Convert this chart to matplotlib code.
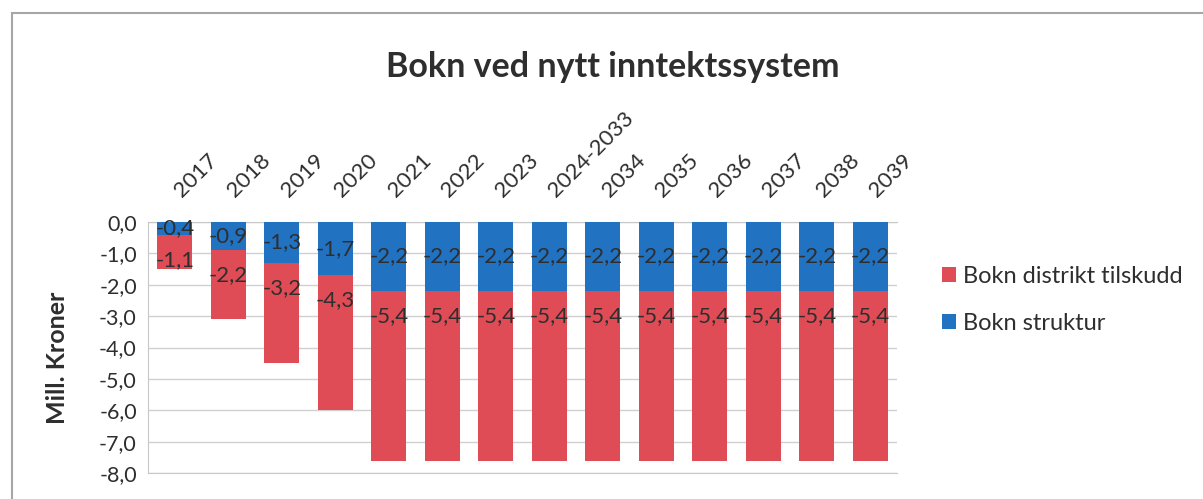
import matplotlib.pyplot as plt
from matplotlib.ticker import FuncFormatter, MultipleLocator
from matplotlib.patches import Rectangle
import numpy as np

# data
categories = ['2017', '2018', '2019', '2020', '2021', '2022', '2023', '2024-2033',
              '2034', '2035', '2036', '2037', '2038', '2039']
struktur = [-0.4, -0.9, -1.3, -1.7, -2.2, -2.2, -2.2, -2.2, -2.2, -2.2, -2.2, -2.2, -2.2, -2.2]
distrikt = [-1.1, -2.2, -3.2, -4.3, -5.4, -5.4, -5.4, -5.4, -5.4, -5.4, -5.4, -5.4, -5.4, -5.4]

title = 'Bokn ved nytt inntektssystem'
ylabel = 'Mill. Kroner'
label_struktur = 'Bokn struktur'
label_distrikt = 'Bokn distrikt tilskudd'

blue = '#2272c2'
red = '#e04c56'
txt = '#2e2e2e'

plt.rcParams['font.family'] = ['Lato', 'DejaVu Sans']

fig = plt.figure(figsize=(12.03, 4.99), dpi=100)
ax = fig.add_axes([0.123, 0.052, 0.6226, 0.503])

# outer chart frame
fig.patches.append(Rectangle((12 / 1203, -0.1), 1.2, 1 - 13 / 499 + 0.1, transform=fig.transFigure,
                             fill=False, edgecolor='#a6a6a6', linewidth=1.5))

x = np.arange(len(categories))
w = 0.66
b1 = ax.bar(x, struktur, w, color=blue, label=label_struktur, zorder=3)
b2 = ax.bar(x, distrikt, w, bottom=struktur, color=red, label=label_distrikt, zorder=3)


def comma(v):
    return f'{v:.1f}'.replace('.', ',')


ax.bar_label(b1, labels=[comma(v) for v in struktur], label_type='center',
             fontsize=16, color=txt, zorder=4)
for xi, s, d in zip(x, struktur, distrikt):
    ax.text(xi, s - 0.8, comma(d), ha='center', va='center', fontsize=16, color=txt, zorder=4)

ax.set_xlim(-0.5, 13.5)
ax.set_ylim(-8, 0)
ax.yaxis.set_major_locator(MultipleLocator(1))
ax.yaxis.set_major_formatter(FuncFormatter(lambda v, p: comma(v)))
ax.grid(axis='y', color='#d0d0d0', linewidth=1, zorder=0)
for s in ax.spines.values():
    s.set_color('#c8c8c8')
ax.spines['right'].set_visible(False)

# category labels above the plot, rotated like the original
ax.set_xticks([])
for xi, cat in zip(x, categories):
    ax.annotate(cat, (xi, 0), xytext=(7, 15), textcoords='offset points',
                rotation=45, ha='left', va='bottom', rotation_mode='anchor',
                fontsize=16, color=txt, annotation_clip=False)
ax.tick_params(axis='y', length=0, labelsize=15.5, labelcolor=txt, pad=8)

ax.set_ylabel(ylabel, fontsize=18, fontweight='bold', color=txt)
ax.yaxis.set_label_coords(-0.106, 0.46)

fig.text(0.509, 0.865, title, ha='center', va='center', fontsize=24.5, fontweight='bold', color=txt)

handles = [b2, b1]
fig.legend(handles, [label_distrikt, label_struktur], loc='upper left',
           bbox_to_anchor=(0.765, 0.51), frameon=False, fontsize=17,
           handlelength=0.6, handleheight=0.6, handletextpad=0.3, labelspacing=1.1,
           labelcolor=txt)

fig.savefig('out.png', dpi=100)
